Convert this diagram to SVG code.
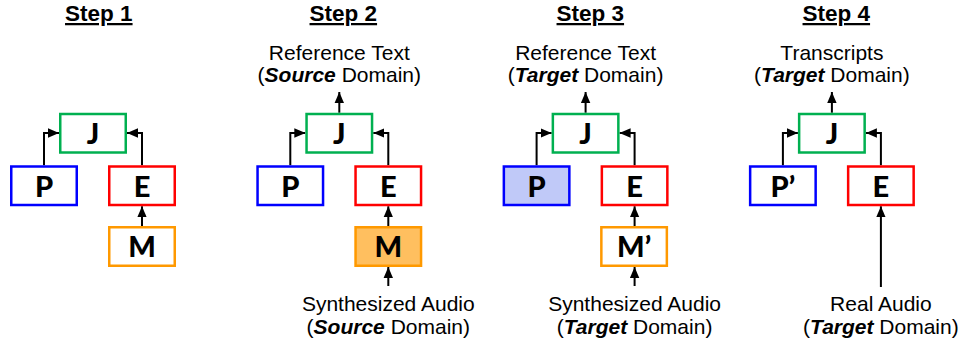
<svg xmlns="http://www.w3.org/2000/svg" width="962" height="344" viewBox="0 0 962 344">
<defs>
<style>
.t{font-family:"Liberation Sans",Arial,sans-serif;font-size:22.5px;font-weight:bold;text-anchor:middle;text-decoration:underline;fill:#000}
.l{font-family:"Liberation Sans",Arial,sans-serif;font-size:21px;text-anchor:middle;fill:#000}
.bi{font-weight:bold;font-style:italic}
.n{font-family:Lato,"Liberation Sans",sans-serif;font-size:29px;font-weight:900;text-anchor:middle;fill:#000}
.bx{stroke-width:2.5;fill:#fff}
.g{stroke:#00B050}
.b{stroke:#0000FF}
.r{stroke:#FF0000}
.o{stroke:#FF9900}
.c{fill:none;stroke:#000;stroke-width:2;marker-end:url(#ah)}
</style>
<marker id="ah" markerUnits="userSpaceOnUse" markerWidth="11" markerHeight="10" refX="11" refY="5" orient="auto" viewBox="0 0 11 10">
<path d="M0,0.3 L11,5 L0,9.7 Z" fill="#000"/>
</marker>
</defs>
<rect width="962" height="344" fill="#fff"/>

<g id="titles">
<text class="t" x="98.8" y="21">Step 1</text>
<text class="t" x="343.3" y="21">Step 2</text>
<text class="t" x="590.3" y="21">Step 3</text>
<text class="t" x="836.3" y="21">Step 4</text>
</g>

<g id="labels">
<text class="l" x="339.3" y="59.5">Reference Text</text>
<text class="l" x="339.3" y="82">(<tspan class="bi">Source</tspan> Domain)</text>
<text class="l" x="388.3" y="310.7">Synthesized Audio</text>
<text class="l" x="388.3" y="334">(<tspan class="bi">Source</tspan> Domain)</text>
<text class="l" x="585.6" y="59.5">Reference Text</text>
<text class="l" x="585.6" y="82">(<tspan class="bi">Target</tspan> Domain)</text>
<text class="l" x="634.6" y="310.7">Synthesized Audio</text>
<text class="l" x="634.6" y="334">(<tspan class="bi">Target</tspan> Domain)</text>
<text class="l" x="831.9" y="59.5">Transcripts</text>
<text class="l" x="831.9" y="82">(<tspan class="bi">Target</tspan> Domain)</text>
<text class="l" x="880.9" y="310.7">Real Audio</text>
<text class="l" x="880.9" y="334">(<tspan class="bi">Target</tspan> Domain)</text>
</g>

<g id="connectors">
<path class="c" d="M44 165.25 V133 H59"/>
<path class="c" d="M142 165.25 V133 H127"/>
<path class="c" d="M142 226 V206.25"/>

<path class="c" d="M290.3 165.25 V133 H305.3"/>
<path class="c" d="M388.3 165.25 V133 H373.3"/>
<path class="c" d="M388.3 226 V206.25"/>
<path class="c" d="M339.3 112.75 V92"/>
<path class="c" d="M388.3 286 V267"/>

<path class="c" d="M536.6 165.25 V133 H551.6"/>
<path class="c" d="M634.6 165.25 V133 H619.6"/>
<path class="c" d="M634.6 226 V206.25"/>
<path class="c" d="M585.6 112.75 V92"/>
<path class="c" d="M634.6 286 V267"/>

<path class="c" d="M782.9 165.25 V133 H797.9"/>
<path class="c" d="M880.9 165.25 V133 H865.9"/>
<path class="c" d="M831.9 112.75 V92"/>
<path class="c" d="M880.9 287 V206.25"/>
</g>

<g id="s1-J"><rect class="bx g" x="60.25" y="114" width="65.5" height="38.5"/><text class="n" x="93" y="143.5">J</text></g>
<g id="s1-P"><rect class="bx b" x="11.25" y="166.5" width="65.5" height="38.5"/><text class="n" x="44" y="196.5">P</text></g>
<g id="s1-E"><rect class="bx r" x="109.25" y="166.5" width="65.5" height="38.5"/><text class="n" x="142" y="196.5">E</text></g>
<g id="s1-M"><rect class="bx o" x="109.25" y="227.25" width="65.5" height="38.5"/><text class="n" x="142" y="257">M</text></g>

<g id="s2-J"><rect class="bx g" x="306.55" y="114" width="65.5" height="38.5"/><text class="n" x="339.3" y="143.5">J</text></g>
<g id="s2-P"><rect class="bx b" x="257.55" y="166.5" width="65.5" height="38.5"/><text class="n" x="290.3" y="196.5">P</text></g>
<g id="s2-E"><rect class="bx r" x="355.55" y="166.5" width="65.5" height="38.5"/><text class="n" x="388.3" y="196.5">E</text></g>
<g id="s2-M"><rect class="bx o" x="355.55" y="227.25" width="65.5" height="38.5" style="fill:#FFBF5F"/><text class="n" x="388.3" y="257">M</text></g>

<g id="s3-J"><rect class="bx g" x="552.85" y="114" width="65.5" height="38.5"/><text class="n" x="585.6" y="143.5">J</text></g>
<g id="s3-P"><rect class="bx b" x="503.85" y="166.5" width="65.5" height="38.5" style="fill:#C0C9F8"/><text class="n" x="536.6" y="196.5">P</text></g>
<g id="s3-E"><rect class="bx r" x="601.85" y="166.5" width="65.5" height="38.5"/><text class="n" x="634.6" y="196.5">E</text></g>
<g id="s3-M"><rect class="bx o" x="601.35" y="227.25" width="65.5" height="38.5"/><text class="n" x="634.1" y="257">M’</text></g>

<g id="s4-J"><rect class="bx g" x="799.15" y="114" width="65.5" height="38.5"/><text class="n" x="831.9" y="143.5">J</text></g>
<g id="s4-P"><rect class="bx b" x="750.15" y="166.5" width="65.5" height="38.5"/><text class="n" x="782.9" y="196.5">P’</text></g>
<g id="s4-E"><rect class="bx r" x="848.15" y="166.5" width="65.5" height="38.5"/><text class="n" x="880.9" y="196.5">E</text></g>
</svg>
